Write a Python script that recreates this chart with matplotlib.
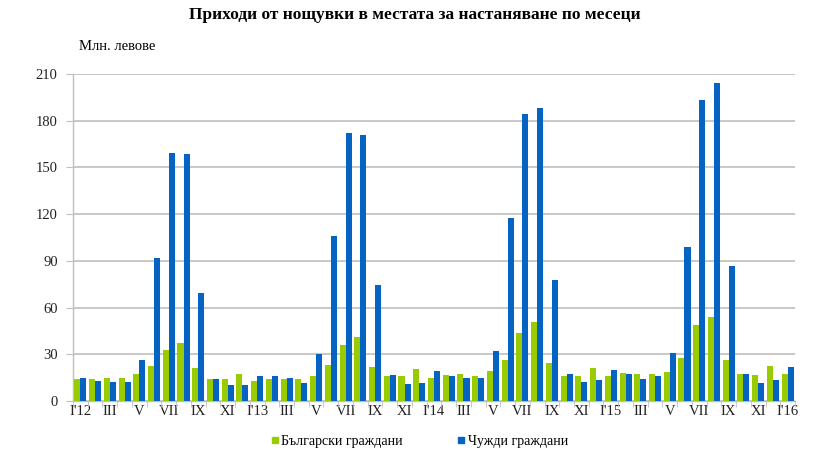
import matplotlib
matplotlib.use("Agg")
import matplotlib.pyplot as plt
from matplotlib.lines import Line2D
import numpy as np

plt.rcParams['font.family'] = ['Liberation Serif', 'DejaVu Serif']

# Months Jan 2012 .. Jan 2016
month_labels = ["I'12", "", "III", "", "V", "", "VII", "", "IX", "", "XI", "",
                "I'13", "", "III", "", "V", "", "VII", "", "IX", "", "XI", "",
                "I'14", "", "III", "", "V", "", "VII", "", "IX", "", "XI", "",
                "I'15", "", "III", "", "V", "", "VII", "", "IX", "", "XI", "",
                "I'16"]

bulgarian = [13.9, 13.9, 15.0, 15.0, 17.1, 22.5, 32.5, 37.2, 21.2, 14.3, 13.9, 17.1,
             12.6, 14.3, 14.3, 13.9, 16.3, 22.9, 35.7, 41.1, 21.8, 16.0, 16.0, 20.7,
             14.5, 16.9, 17.1, 16.0, 19.0, 26.1, 43.4, 50.7, 24.2, 16.0, 16.0, 21.2,
             16.0, 18.2, 17.1, 17.5, 18.8, 27.4, 48.5, 54.1, 26.1, 17.1, 16.7, 22.2,
             17.1]
foreign = [15.0, 12.8, 12.2, 12.2, 26.1, 92.0, 159.1, 158.7, 69.5, 13.9, 10.1, 10.1,
           16.3, 15.8, 15.0, 11.5, 30.4, 105.9, 172.2, 171.1, 74.6, 16.9, 11.1, 11.5,
           19.0, 16.0, 15.0, 15.0, 32.1, 117.8, 184.3, 188.0, 77.4, 17.1, 12.2, 13.3,
           19.7, 17.5, 14.3, 15.8, 30.8, 98.8, 193.5, 204.4, 86.4, 17.5, 11.5, 13.3,
           21.8]

series_names = ["Български граждани", "Чужди граждани"]
title = "Приходи от нощувки в местата за настаняване по месеци"
y_unit = "Млн. левове"
y_ticks = [0, 30, 60, 90, 120, 150, 180, 210]

green = '#99cc00'
blue = '#0563c1'
grid_c = '#bfbfbf'

fig = plt.figure(figsize=(8.29, 4.66), dpi=100)
ax = fig.add_axes([73/829, 1-401/466, (795-73)/829, (401-74)/466])

x = np.arange(len(bulgarian))
w = 0.41
ax.bar(x - w/2, bulgarian, width=w, color=green, zorder=3)
ax.bar(x + w/2, foreign, width=w, color=blue, zorder=3)

ax.set_xlim(-0.5, len(x) - 0.5)
ax.set_ylim(0, 210)
ax.set_yticks(y_ticks)
ax.set_yticklabels([str(v) for v in y_ticks], fontsize=10.5, color='#222222')
ax.yaxis.grid(True, color=grid_c, linewidth=1.2, zorder=0)
ax.tick_params(axis='y', length=5, color=grid_c, pad=6)

ax.set_xticks(x)
ax.set_xticklabels(month_labels, fontsize=10.5, color='#222222')
ax.tick_params(axis='x', which='major', length=0, pad=3)
ax.set_xticks(np.arange(-0.5, len(x), 1.0), minor=True)
ax.tick_params(axis='x', which='minor', length=4, color=grid_c)

for s in ['top', 'right']:
    ax.spines[s].set_visible(False)
for s in ['left', 'bottom']:
    ax.spines[s].set_color(grid_c)
    ax.spines[s].set_linewidth(1)

fig.text(0.5, 1-15/466, title, ha='center', va='center', fontsize=12.5, fontweight='bold')
fig.text(79/829, 1-47/466, y_unit, ha='left', va='center', fontsize=10.5)

handles = [Line2D([], [], marker='s', linestyle='none', color=green, markersize=5),
           Line2D([], [], marker='s', linestyle='none', color=blue, markersize=5)]
fig.legend(handles, series_names, loc='center', bbox_to_anchor=(0.505, 1-441/466),
           ncol=2, frameon=False, fontsize=10, handletextpad=0.05, columnspacing=3.8,
           handlelength=0.8)

fig.savefig('out.png', dpi=100)
